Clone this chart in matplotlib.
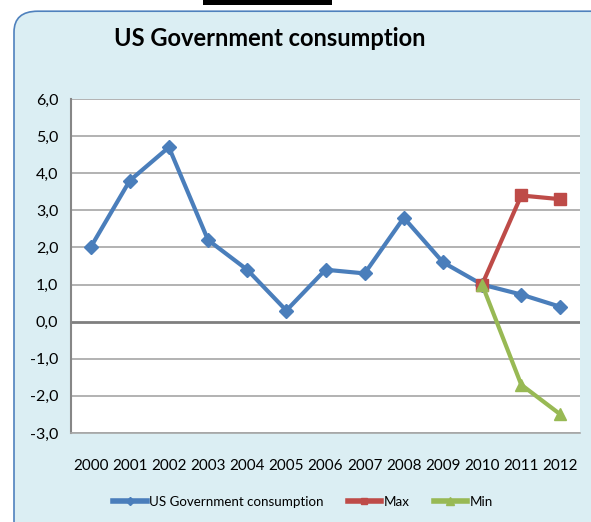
import matplotlib
matplotlib.use('Agg')
import matplotlib.pyplot as plt
from matplotlib.patches import FancyBboxPatch, Rectangle

plt.rcParams['font.family'] = ['Lato', 'DejaVu Sans']

years = ['2000', '2001', '2002', '2003', '2004', '2005', '2006',
         '2007', '2008', '2009', '2010', '2011', '2012']
us_gov = [2.0, 3.8, 4.7, 2.2, 1.4, 0.3, 1.4, 1.3, 2.8, 1.6, 1.0, 0.73, 0.4]
max_years = ['2010', '2011', '2012']
max_vals = [1.0, 3.4, 3.3]
min_years = ['2010', '2011', '2012']
min_vals = [1.0, -1.7, -2.5]
yticks = [-3, -2, -1, 0, 1, 2, 3, 4, 5, 6]

bg = '#DBEEF3'
fig = plt.figure(figsize=(5.91, 5.22), dpi=100)
fig.patch.set_facecolor('white')

# rounded chart frame
frame = FancyBboxPatch((14 / 591, -0.05), 1.2, 1.04 - 6 / 522,
                       boxstyle='round,pad=0,rounding_size=0.04',
                       transform=fig.transFigure, facecolor=bg,
                       edgecolor='#4F81BD', linewidth=1.2, zorder=-2)
fig.patches.append(frame)
fig.patches.append(Rectangle((203 / 591, 1 - 5 / 522), 129 / 591, 5 / 522,
                             transform=fig.transFigure, facecolor='black',
                             edgecolor='none', zorder=-1))

ax = fig.add_axes([71 / 591, 1 - 433 / 522, 509 / 591, 334 / 522])
ax.set_zorder(2)
ax.set_facecolor('white')

x = list(range(len(years)))
idx = {y: i for i, y in enumerate(years)}

ax.plot(x, us_gov, color='#4A7EBB', lw=3, marker='D', ms=7,
        label='US Government consumption', zorder=3)
ax.plot([idx[y] for y in max_years], max_vals, color='#BE4B48', lw=3,
        marker='s', ms=8, label='Max', zorder=4)
ax.plot([idx[y] for y in min_years], min_vals, color='#98B954', lw=3,
        marker='^', ms=9, label='Min', zorder=5)

ax.set_xlim(-0.5, len(years) - 0.5)
ax.set_ylim(-3, 6)
ax.set_yticks(yticks)
ax.yaxis.set_major_formatter(plt.FuncFormatter(lambda v, p: ('%.1f' % v).replace('.', ',')))
ax.set_xticks(x)
ax.set_xticklabels(years)
ax.tick_params(axis='both', length=0, labelsize=11, colors='black')
ax.tick_params(axis='x', pad=19)
ax.tick_params(axis='y', pad=9, labelsize=11.5)

for v in yticks:
    ax.axhline(v, color='#7F7F7F' if v == 0 else '#A6A6A6',
               lw=2 if v == 0 else 1.2, zorder=1)

for s in ['top', 'right']:
    ax.spines[s].set_visible(False)
ax.spines['left'].set_color('#868686')
ax.spines['left'].set_linewidth(1.5)
ax.spines['bottom'].set_color('#A6A6A6')
ax.spines['bottom'].set_linewidth(1.2)

fig.text(270 / 591, 1 - 38 / 522, 'US Government consumption', ha='center',
         va='center', fontsize=17, fontweight='bold')

leg = fig.legend(loc='center', bbox_to_anchor=(303 / 591, 1 - 502 / 522), ncol=3,
                 frameon=False, fontsize=9.6, handlelength=2.5,
                 columnspacing=1.8, handletextpad=0.2, markerscale=0.6)
for line in leg.get_lines():
    line.set_linewidth(4)

fig.savefig('out.png', dpi=100, facecolor=fig.get_facecolor())
